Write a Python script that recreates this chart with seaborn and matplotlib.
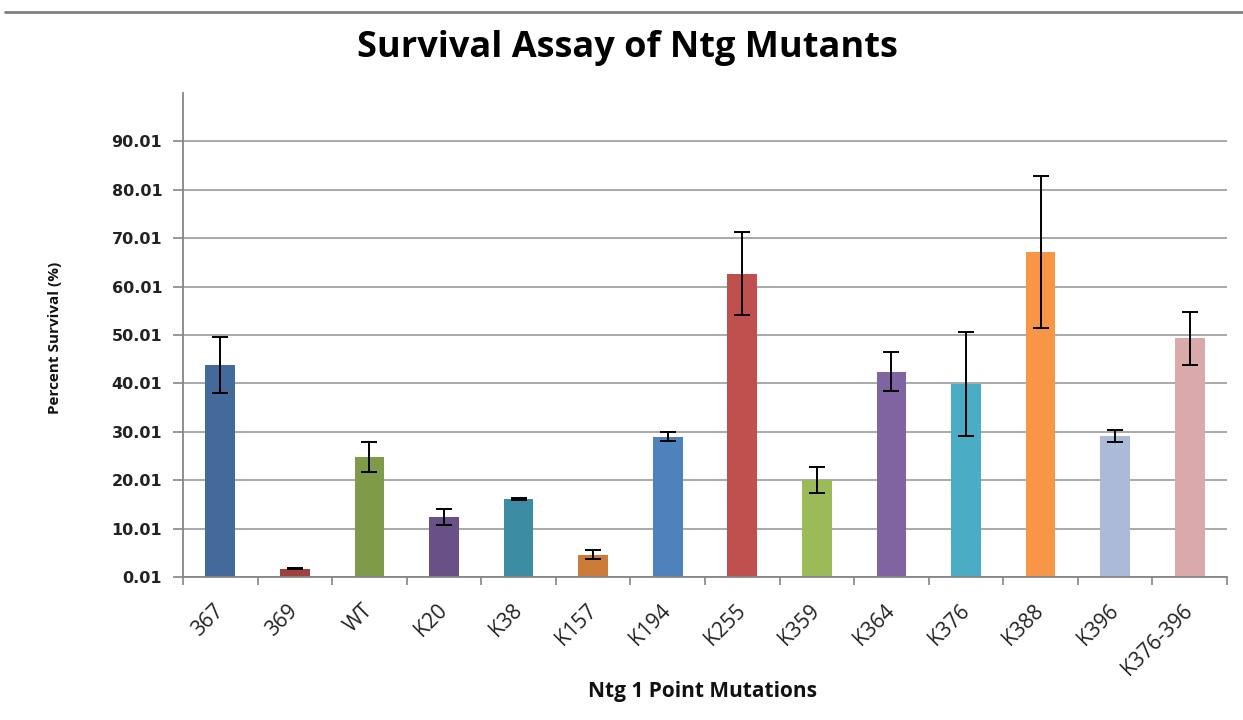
import numpy as np
import pandas as pd
import matplotlib
matplotlib.use('Agg')
import matplotlib.pyplot as plt
import seaborn as sns
from matplotlib.lines import Line2D

# ---- data ----
mutations = ['367', '369', 'WT', 'K20', 'K38', 'K157', 'K194', 'K255',
             'K359', 'K364', 'K376', 'K388', 'K396', 'K376-396']
survival = [43.9, 1.7, 24.9, 12.4, 16.1, 4.6, 29.0, 62.7,
            20.0, 42.4, 39.9, 67.2, 29.2, 49.3]
error = [5.8, 0.1, 3.1, 1.7, 0.2, 0.9, 0.9, 8.6,
         2.7, 4.0, 10.7, 15.7, 1.2, 5.5]
bar_colors = ['#436A9A', '#A0403E', '#7F9A48', '#695185', '#3C8DA3', '#CC7B38',
              '#4F81BD', '#C0504D', '#9BBB59', '#8064A2', '#4BACC6', '#F79646',
              '#AABAD7', '#D9AAA9']
y_ticks = [0.01, 10.01, 20.01, 30.01, 40.01, 50.01, 60.01, 70.01, 80.01, 90.01]
y_tick_labels = ['0.01', '10.01', '20.01', '30.01', '40.01', '50.01',
                 '60.01', '70.01', '80.01', '90.01']
title = 'Survival Assay of Ntg Mutants'
x_label = 'Ntg 1 Point Mutations'
y_label = 'Percent Survival (%)'

sns.set_theme(style='white')
plt.rcParams['font.family'] = ['Open Sans', 'DejaVu Sans']

W, H = 1243, 720
fig = plt.figure(figsize=(W / 100, H / 100), dpi=100)
ax = fig.add_axes([183 / W, 1 - 577 / H, (1227 - 183) / W, (577 - 93) / H])

df = pd.DataFrame({'mutation': mutations, 'survival': survival})
sns.barplot(data=df, x='mutation', y='survival', hue='mutation',
            palette=bar_colors, width=0.4, legend=False, ax=ax,
            errorbar=None, saturation=1, linewidth=0)
ax.errorbar(np.arange(len(mutations)), survival, yerr=error, fmt='none',
            ecolor='black', elinewidth=1.4, capsize=6, capthick=1.4, zorder=5)

ax.set_xlim(-0.5, len(mutations) - 0.5)
ax.set_ylim(0.01, 100.01)
ax.set_yticks(y_ticks)
ax.set_yticklabels(y_tick_labels, family='DejaVu Sans', fontweight='bold',
                   fontsize=11.5, color='#222222')
ax.yaxis.grid(True, color='#a3a3a3', linewidth=1.3)
ax.set_axisbelow(True)
ax.tick_params(axis='y', direction='out', length=7, width=1.2,
               color='#868686', left=True, pad=8)

ax.set_xticks(np.arange(len(mutations)))
ax.set_xticklabels(mutations, rotation=45, ha='right', va='center',
                   rotation_mode='anchor', fontsize=15, color='#222222')
ax.set_xticks(np.arange(len(mutations) + 1) - 0.5, minor=True)
ax.tick_params(axis='x', which='major', length=0, pad=22)
ax.tick_params(axis='x', which='minor', direction='out', length=6, width=1.2,
               color='#868686', bottom=True)

for s in ['top', 'right']:
    ax.spines[s].set_visible(False)
for s in ['left', 'bottom']:
    ax.spines[s].set_color('#868686')
    ax.spines[s].set_linewidth(1.3)

ax.set_xlabel('')
ax.set_ylabel('')
fig.text(627 / W, 1 - 48 / H, title, ha='center', va='center',
         fontsize=26, fontweight='bold', color='black')
fig.text(703 / W, 1 - 691 / H, x_label, ha='center', va='center',
         fontsize=15, fontweight='bold', color='#111111')
fig.text(55 / W, 1 - 338 / H, y_label, ha='center', va='center', rotation=90,
         fontsize=11, fontweight='bold', color='#111111')

fig.add_artist(Line2D([5 / W, 1.0], [1 - 12 / H, 1 - 12 / H],
                      transform=fig.transFigure, color='#7f7f7f', linewidth=2))

fig.savefig('out.png', dpi=100)
